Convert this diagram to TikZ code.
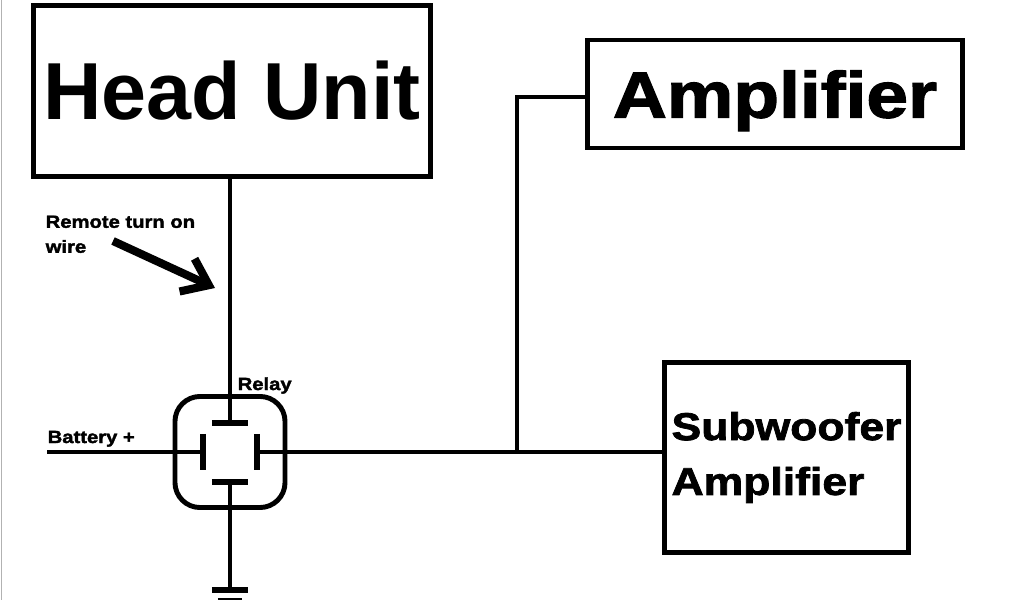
\documentclass[tikz,border=0pt]{standalone}
\usepackage{fontspec}
\setmainfont{Liberation Sans}
\newfontfamily\heavyfont{Liberation Sans}[BoldFeatures={FakeBold=2,FakeStretch=1.15}]
\usetikzlibrary{arrows.meta}
\begin{document}
\begin{tikzpicture}[x=0.01cm, y=-0.01cm]
        \tikzstyle{block} = [rectangle, draw, line width=1.4pt, inner sep=0pt]
        \tikzstyle{wire} = [draw, line width=1.15pt]
        \tikzstyle{bar} = [draw, line width=1.7pt]
        \tikzstyle{tag} = [inner sep=0pt, font=\heavyfont\bfseries\fontsize{5}{7.1}\selectfont]

        \useasboundingbox (0,0) rectangle (1024,600);
        \draw [gray!60, line width=0.4pt] (1.5,0) -- (1.5,600);

        \node [block, minimum width=3.96cm, minimum height=1.70cm, font=\bfseries\fontsize{23}{27}\selectfont] (headunit) at (232,91) {Head Unit};
        \node [block, minimum width=3.74cm, minimum height=1.08cm, text depth=0pt, font=\heavyfont\bfseries\fontsize{18.5}{22}\selectfont] (amplifier) at (775,94) {Amplifier};
        \node [block, minimum width=2.43cm, minimum height=1.89cm, align=left, font=\heavyfont\bfseries\fontsize{11}{15.6}\selectfont] (subwoofer) at (786.5,457.5) {Subwoofer\\Amplifier};
        \node [draw, line width=1.4pt, rounded corners=0.25cm, minimum width=1.10cm, minimum height=1.11cm] (relay) at (230,452) {};

        % relay contacts
        \coordinate (reltop) at (230,423);
        \coordinate (relbot) at (230,482);
        \coordinate (relleft) at (203,452);
        \coordinate (relright) at (257,452);
        \path [bar] ([xshift=-0.18cm]reltop) -- ([xshift=0.18cm]reltop);
        \path [bar] ([xshift=-0.18cm]relbot) -- ([xshift=0.18cm]relbot);
        \path [bar] ([yshift=0.18cm]relleft) -- ([yshift=-0.18cm]relleft);
        \path [bar] ([yshift=0.18cm]relright) -- ([yshift=-0.18cm]relright);

        % ground
        \coordinate (ground) at (230,590);
        \path [bar] ([xshift=-0.18cm]ground) -- ([xshift=0.18cm]ground);
        \path [bar] ([xshift=-0.12cm, yshift=-0.11cm]ground) -- ([xshift=0.12cm, yshift=-0.11cm]ground);

        \coordinate (battery) at (47,452);
        \coordinate (junction) at (517,452);
        \path [wire] (reltop |- headunit.south) -- (reltop);
        \path [wire] (battery) -- (relleft);
        \path [wire] (relright) -- (relright -| subwoofer.west);
        \path [wire] (junction) |- ([yshift=-0.03cm]amplifier.west);
        \path [wire] (relbot) -- (ground);

        \node [tag, anchor=base west] (batterylabel) at (47,443) {Battery +};
        \node [tag, anchor=base west] (relaylabel) at (237,390) {Relay};
        \node [tag, anchor=north west, align=left] (remotelabel) at (45,215) {Remote turn on\\wire};

        \coordinate (arrowstart) at (113,241);
        \coordinate (arrowend) at (215,288);
        \path [draw, line width=2.3pt, -{Straight Barb[length=2.4mm, width=3.6mm]}] (arrowstart) -- (arrowend);
\end{tikzpicture}
\end{document}
